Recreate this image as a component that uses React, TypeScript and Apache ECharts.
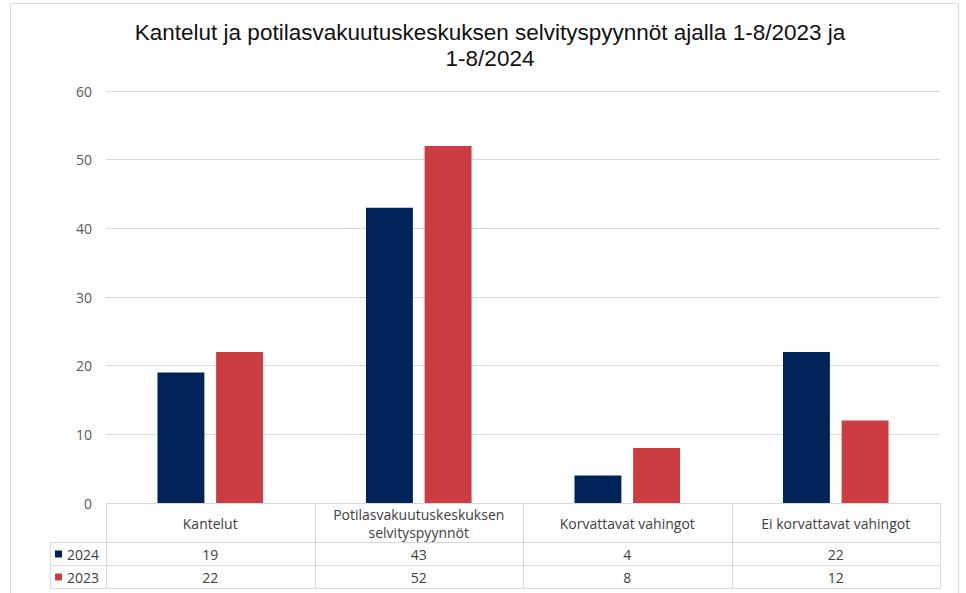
import React, { useEffect, useRef } from "react";
import * as echarts from "echarts";

const categories = ["Kantelut", "Potilasvakuutuskeskuksen\nselvityspyynnöt", "Korvattavat vahingot", "Ei korvattavat vahingot"];
const seriesNames = ["2024", "2023"];
const values2024 = [19, 43, 4, 22];
const values2023 = [22, 52, 8, 12];
const colors = ["#00235A", "#CC3D42"];
const titleLines = ["Kantelut ja potilasvakuutuskeskuksen selvityspyynnöt ajalla 1-8/2023 ja", "1-8/2024"];

const W = 966;
const H = 593;
const GL = 106;
const GR = 940;
const GT = 91;
const GB = 503;
const ROW1 = 542;
const ROW2 = 565;
const ROW3 = 588;
const LEG_X = 50;
const LINE = "#D9D9D9";
const TXT = "#404040";
const FONT = "'Open Sans', 'Liberation Sans', Arial, sans-serif";
const TITLE_FONT = "'Liberation Sans', Arial, sans-serif";
const TFS = 14;

export default function App() {
  const ref = useRef<HTMLDivElement>(null);
  useEffect(() => {
    if (!ref.current) return;
    const chart = echarts.init(ref.current, null, { renderer: "svg" });
    const colW = (GR - GL) / categories.length;
    const g: any[] = [];
    const hl = (x1: number, x2: number, y: number) =>
      g.push({ type: "line", shape: { x1, y1: y + 0.5, x2, y2: y + 0.5 }, style: { stroke: LINE, lineWidth: 1 }, silent: true });
    const vl = (x: number, y1: number, y2: number) =>
      g.push({ type: "line", shape: { x1: x + 0.5, y1, x2: x + 0.5, y2 }, style: { stroke: LINE, lineWidth: 1 }, silent: true });
    // outer frame
    g.push({ type: "rect", shape: { x: 10.5, y: 3.5, width: 948, height: 620 }, style: { fill: "none", stroke: LINE, lineWidth: 1 }, silent: true });
    // title
    titleLines.forEach((t, i) => {
      g.push({ type: "text", x: 490, y: 32 + i * 26, style: { text: t, fill: "#111", font: `22.5px ${TITLE_FONT}`, align: "center", verticalAlign: "middle" }, silent: true });
    });
    hl(GL, GR, GB);
    hl(LEG_X, GR, ROW1);
    hl(LEG_X, GR, ROW2);
    hl(LEG_X, GR, ROW3);
    vl(LEG_X, ROW1, ROW3);
    for (let i = 0; i <= categories.length; i++) vl(Math.round(GL + i * colW), GB, ROW3);
    categories.forEach((c, i) => {
      const cx = GL + (i + 0.5) * colW;
      g.push({ type: "text", x: cx, y: (GB + ROW1) / 2 + 1, style: { text: c, fill: TXT, font: `${TFS}px ${FONT}`, align: "center", verticalAlign: "middle", lineHeight: 18 }, silent: true });
      g.push({ type: "text", x: cx, y: (ROW1 + ROW2) / 2 + 1, style: { text: String(values2024[i]), fill: TXT, font: `${TFS}px ${FONT}`, align: "center", verticalAlign: "middle" }, silent: true });
      g.push({ type: "text", x: cx, y: (ROW2 + ROW3) / 2 + 1, style: { text: String(values2023[i]), fill: TXT, font: `${TFS}px ${FONT}`, align: "center", verticalAlign: "middle" }, silent: true });
    });
    seriesNames.forEach((n, k) => {
      const yc = k === 0 ? (ROW1 + ROW2) / 2 : (ROW2 + ROW3) / 2;
      g.push({ type: "rect", shape: { x: 55, y: yc - 3, width: 7, height: 7 }, style: { fill: colors[k] }, silent: true });
      g.push({ type: "text", x: 67, y: yc + 1, style: { text: n, fill: TXT, font: `${TFS}px ${FONT}`, align: "left", verticalAlign: "middle" }, silent: true });
    });

    chart.setOption({
      animation: false,
      backgroundColor: "#fff",
      grid: { left: GL, right: W - GR, top: GT, bottom: H - GB, containLabel: false },
      xAxis: {
        type: "category",
        data: categories,
        axisLine: { show: false },
        axisTick: { show: false },
        axisLabel: { show: false },
      },
      yAxis: {
        type: "value",
        min: 0,
        max: 60,
        interval: 10,
        axisLine: { show: false },
        axisTick: { show: false },
        splitLine: { lineStyle: { color: LINE, width: 1 } },
        axisLabel: { color: "#595959", fontSize: 14, fontFamily: FONT, margin: 14 },
      },
      series: [
        { name: seriesNames[0], type: "bar", data: values2024, itemStyle: { color: colors[0] }, barWidth: "22.5%", barGap: "25%" },
        { name: seriesNames[1], type: "bar", data: values2023, itemStyle: { color: colors[1] }, barWidth: "22.5%", barGap: "25%" },
      ],
      graphic: g,
    });
    return () => chart.dispose();
  }, []);
  return <div ref={ref} style={{ width: W, height: H, position: "absolute", left: 0, top: 0 }} />;
}
